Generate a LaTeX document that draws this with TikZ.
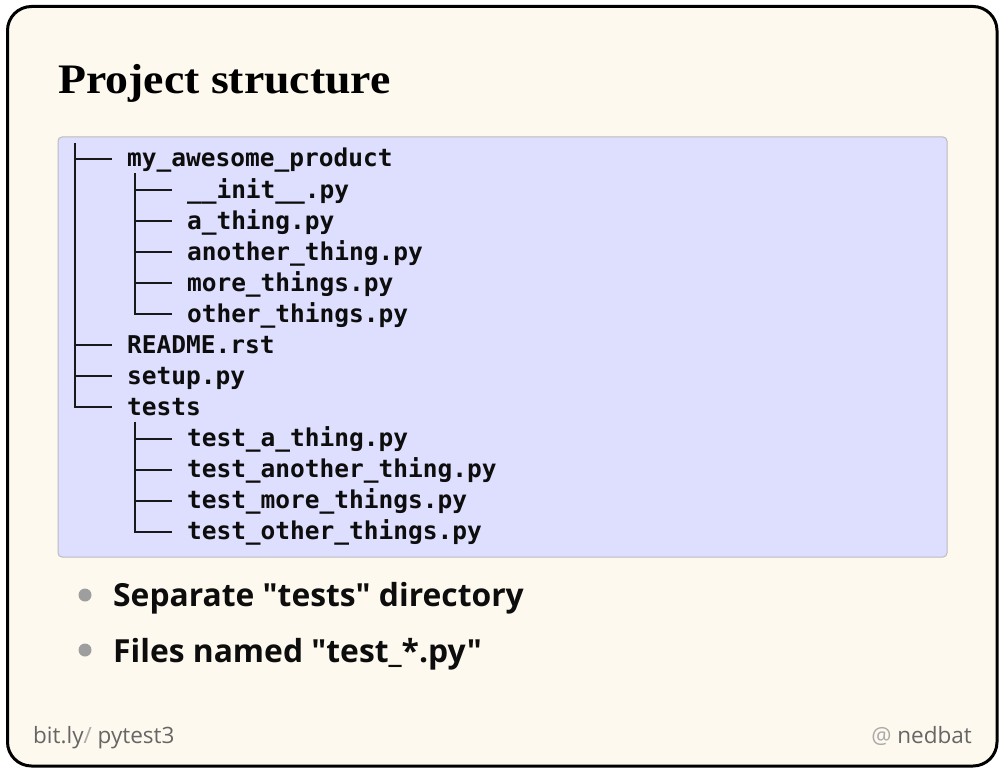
\documentclass[tikz,border=0pt]{standalone}
\usepackage{fontspec}
\usepackage{tikz}
\usetikzlibrary{calc,positioning}
\newfontfamily\titlefont{Liberation Serif}[FakeStretch=1.09]
\newfontfamily\codefont{DejaVu Sans Mono}
\newfontfamily\bodyfont{Open Sans}
\definecolor{slidebg}{HTML}{FEF9EF}
\definecolor{codebg}{HTML}{DEDEFF}
\definecolor{codeedge}{HTML}{BBBBBB}
\definecolor{dotgray}{HTML}{9E9E9E}
\definecolor{footgray}{HTML}{666666}
\definecolor{footlight}{HTML}{AAAAAA}

\begin{document}
\begin{tikzpicture}[
  x=1pt,y=-1pt,
  entry/.style={anchor=west,inner sep=0pt,text height=22pt,text depth=6pt,
                text=black!95,font=\codefont\bfseries\fontsize{24.5}{28}\selectfont},
  branch/.style={line width=2pt,draw=black!90},
  item/.style={anchor=base west,inner sep=0pt,text=black!95,
               font=\bodyfont\bfseries\fontsize{31.8}{38}\selectfont},
  bulletdot/.style={circle,fill=dotgray,minimum size=13pt,inner sep=0pt},
  foot/.style={inner sep=0pt,text=footgray,font=\bodyfont\fontsize{22.5}{26}\selectfont}
]
\useasboundingbox (0,0) rectangle (1000,770);
\fill[white] (0,0) rectangle (1000,770);
\draw[line width=3pt,fill=slidebg,rounded corners=24pt] (7.5,6.5) rectangle (997,766);

\node[anchor=base west,inner sep=0pt,
      font=\titlefont\bfseries\fontsize{42}{48}\selectfont] (title) at (58,93.5)
  {Project structure};

% listing box
\draw[draw=codeedge,fill=codebg,line width=1pt,rounded corners=4pt]
  (58,137) rectangle (947,557);

\node[entry] (pkg)      at (127,159)    {my\_awesome\_product};
\node[entry] (init)     at (186.8,190.06) {\_\_init\_\_.py};
\node[entry] (athing)   at (186.8,221.12) {a\_thing.py};
\node[entry] (another)  at (186.8,252.18) {another\_thing.py};
\node[entry] (more)     at (186.8,283.24) {more\_things.py};
\node[entry] (other)    at (186.8,314.3)  {other\_things.py};
\node[entry] (readme)   at (127,345.36)   {README.rst};
\node[entry] (setup)    at (127,376.42)   {setup.py};
\node[entry] (tests)    at (127,407.48)   {tests};
\node[entry] (tathing)  at (186.8,438.54) {test\_a\_thing.py};
\node[entry] (tanother) at (186.8,469.6)  {test\_another\_thing.py};
\node[entry] (tmore)    at (186.8,500.66) {test\_more\_things.py};
\node[entry] (tother)   at (186.8,531.72) {test\_other\_things.py};

% tree lines
\coordinate (trunk) at (75,143);
\draw[branch] (trunk) |- ([xshift=-15pt]tests.west);
\foreach \n in {pkg,readme,setup}
  \draw[branch] (trunk |- \n.west) -- ([xshift=-15pt]\n.west);

\coordinate (pkgbar) at ([xshift=7.5pt]pkg.south west);
\draw[branch] (pkgbar) |- ([xshift=-15pt]other.west);
\foreach \n in {init,athing,another,more}
  \draw[branch] (pkgbar |- \n.west) -- ([xshift=-15pt]\n.west);

\coordinate (testsbar) at ([xshift=7.5pt]tests.south west);
\draw[branch] (testsbar) |- ([xshift=-15pt]tother.west);
\foreach \n in {tathing,tanother,tmore}
  \draw[branch] (testsbar |- \n.west) -- ([xshift=-15pt]\n.west);

% bullets
\node[bulletdot] (dot1) at (85,595) {};
\node[item] (sep) at (113,606) {Separate "tests" directory};
\node[bulletdot] (dot2) at (85,650) {};
\node[item] (named) at (113,662) {Files named "test\_*.py"};

% footer
\node[foot,anchor=base west] (link) at (33,743.5)
  {bit.ly\textcolor{footlight}{/} pytest3};
\node[foot,anchor=base east] (handle) at (972,743.5)
  {\textcolor{footlight}{@} nedbat};
\end{tikzpicture}
\end{document}
